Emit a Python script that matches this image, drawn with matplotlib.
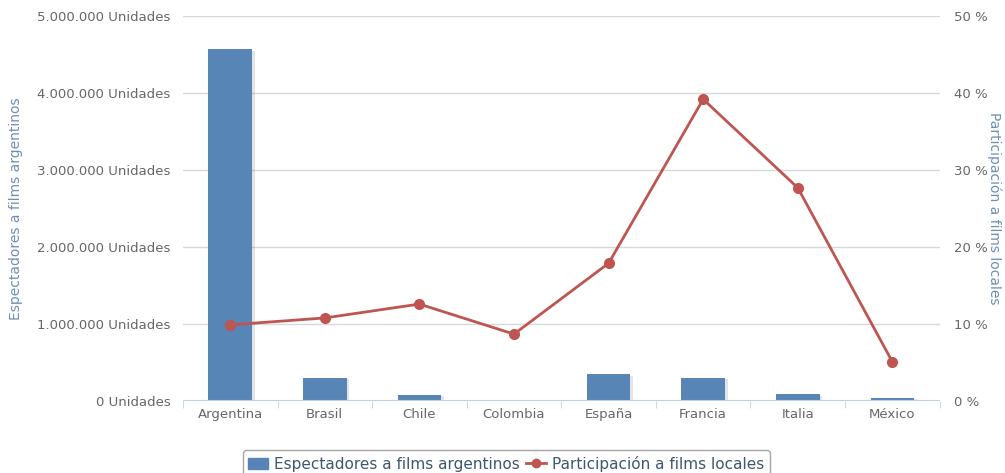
import numpy as np
import matplotlib.pyplot as plt
import matplotlib.patheffects as pe
from matplotlib.ticker import FuncFormatter

paises = ["Argentina", "Brasil", "Chile", "Colombia", "España", "Francia", "Italia", "México"]
espectadores = [4570000, 300000, 80000, 15000, 350000, 300000, 90000, 40000]
participacion = [9.9, 10.8, 12.6, 8.7, 17.9, 39.2, 27.7, 5.1]

bar_color = "#5685B6"
line_color = "#BE5551"
title_color = "#6F8FB3"
tick_color = "#666666"

plt.rcParams['font.family'] = ['DejaVu Sans']

fig = plt.figure(figsize=(10.05, 4.73), dpi=100)
ax = fig.add_axes([0.182, 0.152, 0.753, 0.814])
ax2 = ax.twinx()

x = np.arange(len(paises))
ax.bar(x, espectadores, width=0.46, color=bar_color, zorder=3,
       path_effects=[pe.SimplePatchShadow(offset=(2, -1), alpha=0.12), pe.Normal()])
ax2.plot(x, participacion, color=line_color, lw=2, marker="o", ms=7, zorder=4)

ax.set_xlim(-0.5, len(paises) - 0.5)
ax.set_ylim(0, 5000000)
ax2.set_ylim(0, 50)
ax.set_yticks(np.arange(0, 5000001, 1000000))
ax2.set_yticks(np.arange(0, 51, 10))

def unidades(v, pos):
    return f"{int(v):,} Unidades".replace(",", ".")

ax.yaxis.set_major_formatter(FuncFormatter(unidades))
ax2.yaxis.set_major_formatter(FuncFormatter(lambda v, p: f"{int(v)} %"))

ax.set_xticks(x)
ax.set_xticklabels(paises)
ax.set_xticks(np.arange(-0.5, len(paises), 1), minor=True)
ax.tick_params(axis="x", which="major", length=0, pad=5, labelsize=9.5, labelcolor=tick_color)
ax.tick_params(axis="x", which="minor", length=5, color="#C0D0E0")
ax.tick_params(axis="y", length=0, pad=9, labelsize=9.5, labelcolor=tick_color)
ax2.tick_params(axis="y", length=0, pad=10, labelsize=9.5, labelcolor=tick_color)

ax.grid(axis="y", color="#D8D8D8", lw=1, zorder=0)
for a in (ax, ax2):
    for s in ["top", "left", "right", "bottom"]:
        a.spines[s].set_visible(False)
ax.axhline(0, color="#C0D0E0", lw=1.5, zorder=5)
ax2.set_zorder(ax.get_zorder() + 1)
ax2.patch.set_visible(False)

ax.set_ylabel("Espectadores a films argentinos", color=title_color, fontsize=10, labelpad=10)
ax2.set_ylabel("Participación a films locales", color=title_color, fontsize=10,
               rotation=270, labelpad=10)

h1 = plt.Rectangle((0, 0), 1, 1, color=bar_color)
h2, = ax.plot([], [], color=line_color, lw=2, marker="o", ms=6)
leg = fig.legend([h1, h2], ["Espectadores a films argentinos", "Participación a films locales"],
                 loc="center", bbox_to_anchor=(0.504, 0.02), ncol=2, frameon=True,
                 fontsize=11, handlelength=1.3, handletextpad=0.4, columnspacing=0.4,
                 borderpad=0.35, fancybox=True)
leg.get_frame().set_edgecolor("#909090")
leg.get_frame().set_linewidth(1)
for t in leg.get_texts():
    t.set_color("#3E576F")

fig.savefig("out.png", dpi=100)
